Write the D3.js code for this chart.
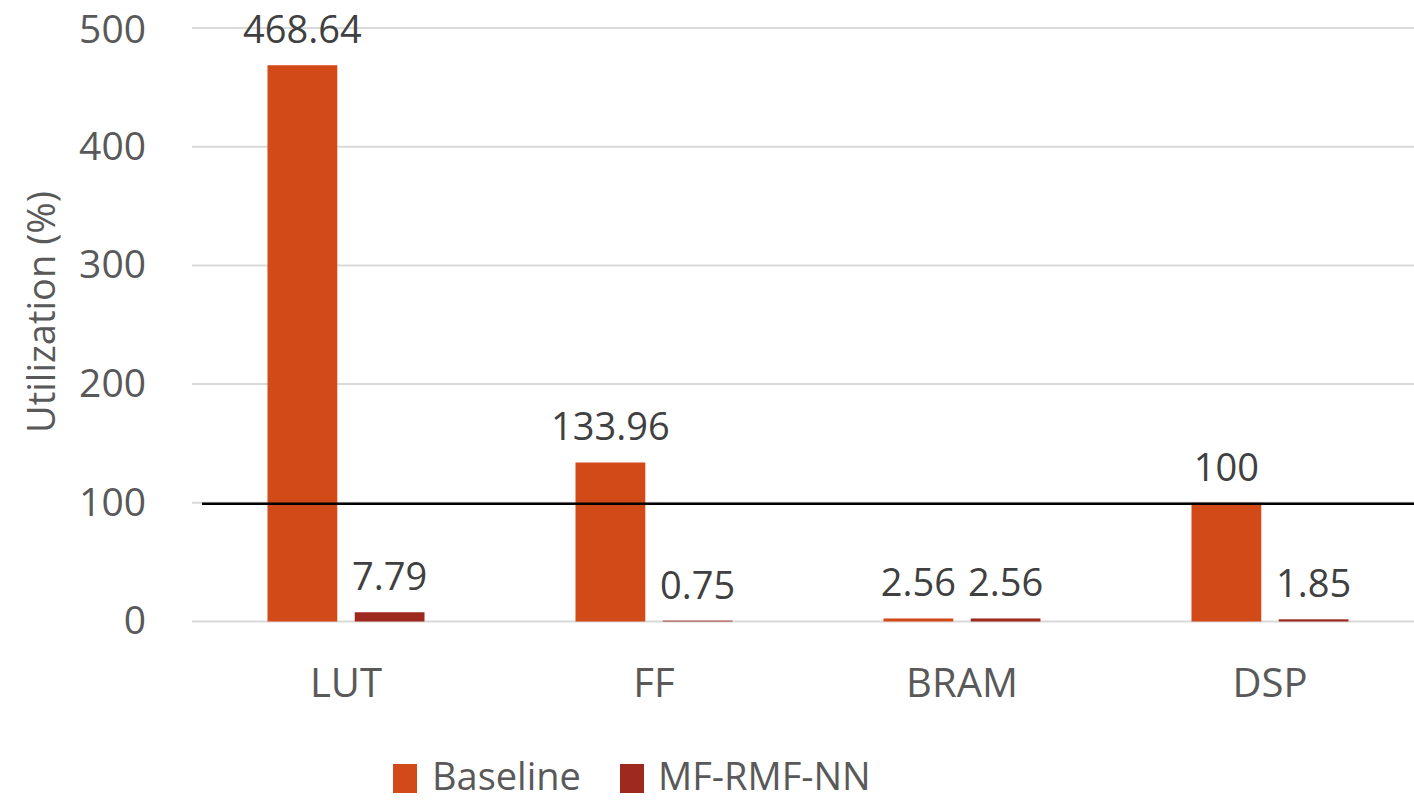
<!DOCTYPE html>
<html>
<head>
<meta charset="utf-8">
<script src="https://cdn.jsdelivr.net/npm/d3@7"></script>
<style>
  html, body { margin: 0; padding: 0; background: #fff; }
  svg { display: block; font-family: "Open Sans", "Noto Sans", sans-serif; }
</style>
</head>
<body>
<svg id="chart" width="1414" height="801"></svg>
<script>
// Resource utilization per FPGA resource type
const categories = ["LUT", "FF", "BRAM", "DSP"];
const seriesNames = ["Baseline", "MF-RMF-NN"];
const baselineValues = [468.64, 133.96, 2.56, 100];
const mfValues = [7.79, 0.75, 2.56, 1.85];
const yTicks = [0, 100, 200, 300, 400, 500];
const referenceLine = 100;

const colors = ["#D24A18", "#9E2A1F"];
const series = [baselineValues, mfValues];

const svg = d3.select("#chart");
const W = 1414;

const x0 = d3.scaleBand().domain(categories).range([192, 1424]).paddingInner(0).paddingOuter(0);
const x1 = d3.scaleBand().domain(seriesNames).range([0, 157]).paddingInner(0.2).paddingOuter(0);
const groupOffset = (x0.bandwidth() - 157) / 2;
const y = d3.scaleLinear().domain([0, 500]).range([621.5, 28]);

// Horizontal gridlines
svg.append("g")
  .selectAll("line")
  .data(yTicks)
  .join("line")
  .attr("x1", 192).attr("x2", W)
  .attr("y1", d => y(d)).attr("y2", d => y(d))
  .attr("stroke", "#d9d9d9").attr("stroke-width", 2);

// Y axis tick labels
const yAxis = d3.axisLeft(y).tickValues(yTicks).tickSize(0).tickPadding(0);
const gy = svg.append("g").attr("transform", "translate(146,0)").call(yAxis);
gy.select(".domain").remove();
gy.selectAll("text")
  .attr("fill", "#595959")
  .attr("font-size", 39)
  .attr("font-family", "'Open Sans', sans-serif")
  .attr("dy", d => d === 500 ? "0.36em" : "0.32em");

// Y axis title
svg.append("text")
  .attr("transform", `translate(55,312) rotate(-90)`)
  .attr("text-anchor", "middle")
  .attr("fill", "#595959")
  .attr("font-size", 38)
  .text("Utilization (%)");

// Bars
seriesNames.forEach((name, si) => {
  svg.append("g")
    .selectAll("rect")
    .data(categories.map((c, i) => ({ c, v: series[si][i] })))
    .join("rect")
    .attr("x", d => x0(d.c) + groupOffset + x1(name))
    .attr("width", x1.bandwidth())
    .attr("y", d => y(d.v))
    .attr("height", d => y(0) - y(d.v))
    .attr("fill", colors[si]);

  // Value labels
  svg.append("g")
    .selectAll("text")
    .data(categories.map((c, i) => ({ c, v: series[si][i] })))
    .join("text")
    .attr("x", d => x0(d.c) + groupOffset + x1(name) + x1.bandwidth() / 2)
    .attr("y", d => y(d.v) - 22)
    .attr("text-anchor", "middle")
    .attr("fill", "#404040")
    .attr("font-size", 38)
    .text(d => d.v);
});

// 100% reference line
svg.append("line")
  .attr("x1", 202).attr("x2", W)
  .attr("y1", y(referenceLine) + 1).attr("y2", y(referenceLine) + 1)
  .attr("stroke", "#000").attr("stroke-width", 2.5);

// X axis category labels
const xAxis = d3.axisBottom(x0).tickSize(0).tickPadding(0);
const gx = svg.append("g").attr("transform", "translate(0,669)").call(xAxis);
gx.select(".domain").remove();
gx.selectAll("text")
  .attr("fill", "#595959")
  .attr("font-size", 40)
  .attr("font-family", "'Open Sans', sans-serif")
  .attr("dy", "0.71em");

// Legend
const legendItems = [
  { name: seriesNames[0], color: colors[0], x: 393, tx: 432 },
  { name: seriesNames[1], color: colors[1], x: 620, tx: 658 }
];
const lg = svg.append("g");
legendItems.forEach(it => {
  lg.append("rect")
    .attr("x", it.x).attr("y", 764)
    .attr("width", 24).attr("height", 29)
    .attr("fill", it.color);
  lg.append("text")
    .attr("x", it.tx).attr("y", 790)
    .attr("fill", "#595959")
    .attr("font-size", 38)
    .text(it.name);
});
</script>
</body>
</html>
